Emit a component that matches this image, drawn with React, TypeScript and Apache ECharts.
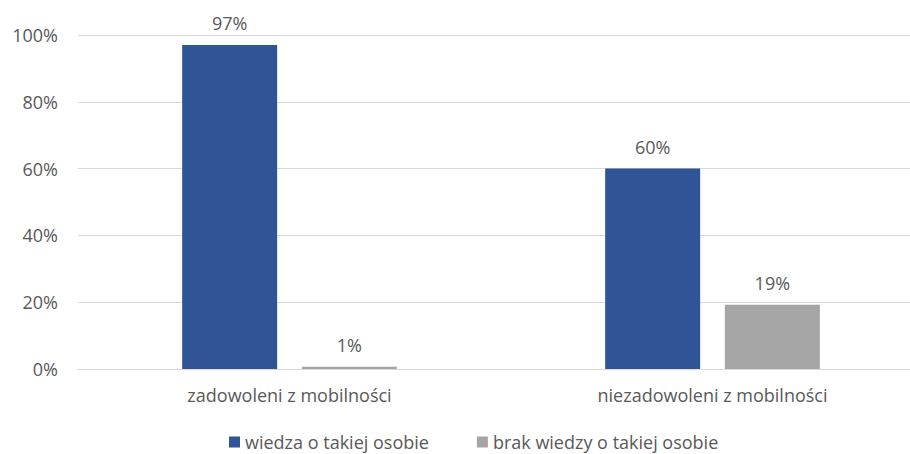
import React, { useEffect, useRef } from "react";
import * as echarts from "echarts";

const categories = ["zadowoleni z mobilności", "niezadowoleni z mobilności"];
const seriesNames = ["wiedza o takiej osobie", "brak wiedzy o takiej osobie"];
const knowValues = [97, 60];
const noKnowValues = [0.7, 19.2];
const knowLabels = ["97%", "60%"];
const noKnowLabels = ["1%", "19%"];
const yTicks = [0, 20, 40, 60, 80, 100];

const FONT = "Open Sans";
const TEXT = "#595959";
const FS = 18;

export default function App() {
  const ref = useRef<HTMLDivElement>(null);
  useEffect(() => {
    document.body.style.margin = "0";
    document.body.style.overflow = "hidden";
    document.documentElement.style.overflow = "hidden";
    const chart = echarts.init(ref.current!, null, { renderer: "svg" });
    chart.setOption({
      animation: false,
      textStyle: { fontFamily: FONT },
      grid: { left: 78, right: 0, top: 35, height: 334 },
      legend: {
        bottom: 3,
        left: 229,
        padding: 0,
        itemWidth: 11,
        itemHeight: 11,
        itemGap: 48,
        icon: "rect",
        textStyle: { color: TEXT, fontSize: FS, fontFamily: FONT },
        data: seriesNames,
      },
      xAxis: {
        type: "category",
        data: categories,
        axisLine: { lineStyle: { color: "#d9d9d9", width: 1 } },
        axisTick: { show: false },
        axisLabel: { color: TEXT, fontSize: FS, margin: 17, fontFamily: FONT },
      },
      yAxis: {
        type: "value",
        min: 0,
        max: 100,
        interval: 20,
        axisLine: { show: false },
        axisTick: { show: false },
        splitLine: { lineStyle: { color: "#d9d9d9", width: 1 } },
        axisLabel: {
          color: TEXT,
          fontSize: FS,
          margin: 20,
          fontFamily: FONT,
          formatter: (v: number) => (yTicks.includes(v) ? v + "%" : ""),
        },
      },
      series: [
        {
          name: seriesNames[0],
          type: "bar",
          data: knowValues,
          barWidth: 95,
          barGap: "26%",
          itemStyle: { color: "#2F5597" },
          label: {
            show: true,
            position: "top",
            distance: 13,
            color: TEXT,
            fontSize: FS,
            fontFamily: FONT,
            formatter: (p: any) => knowLabels[p.dataIndex],
          },
        },
        {
          name: seriesNames[1],
          type: "bar",
          data: noKnowValues,
          barWidth: 95,
          barGap: "26%",
          itemStyle: { color: "#A5A5A5" },
          label: {
            show: true,
            position: "top",
            distance: 13,
            color: TEXT,
            fontSize: FS,
            fontFamily: FONT,
            formatter: (p: any) => noKnowLabels[p.dataIndex],
          },
        },
      ],
    });
    return () => chart.dispose();
  }, []);
  return <div ref={ref} style={{ width: 924, height: 454 }} />;
}
